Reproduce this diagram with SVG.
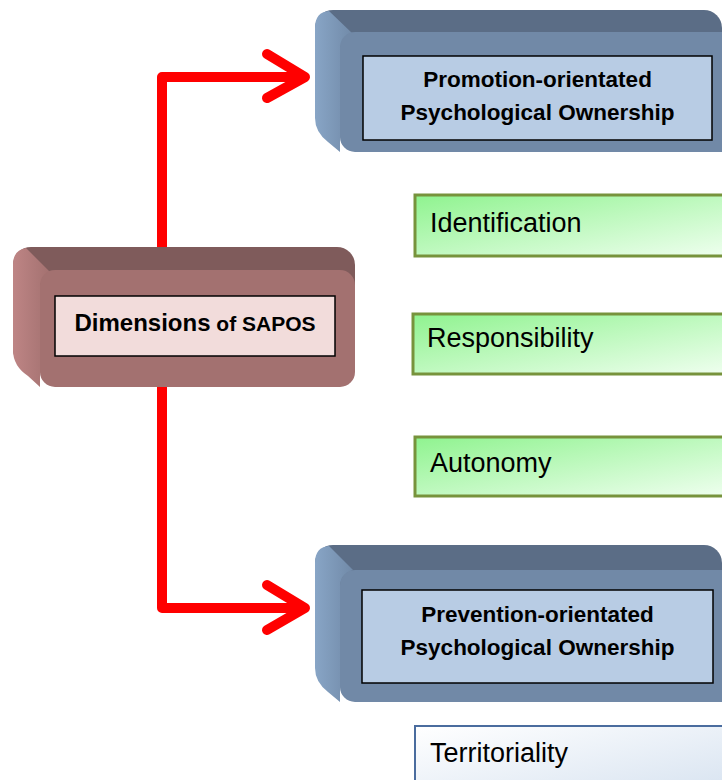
<svg xmlns="http://www.w3.org/2000/svg" width="722" height="780" viewBox="0 0 722 780">
<defs>
<linearGradient id="gGreen" x1="0" y1="0" x2="1" y2="1">
<stop offset="0" stop-color="#8ff38f"/>
<stop offset="1" stop-color="#f0fff0"/>
</linearGradient>
<linearGradient id="gTerr" x1="0" y1="0" x2="1" y2="1">
<stop offset="0" stop-color="#ffffff"/>
<stop offset="1" stop-color="#d6e2f0"/>
</linearGradient>
<linearGradient id="gBlueLeft" x1="0" y1="0" x2="1" y2="0">
<stop offset="0" stop-color="#88a5c6"/>
<stop offset="1" stop-color="#718aa8"/>
</linearGradient>
<linearGradient id="gPinkLeft" x1="0" y1="0" x2="1" y2="0">
<stop offset="0" stop-color="#be8585"/>
<stop offset="1" stop-color="#a37170"/>
</linearGradient>
</defs>
<style>
.btop{fill:#5b6d86}
.bfront{fill:#7189a7}
.binner{fill:#b8cce4;stroke:#000;stroke-width:1.5}
.ptop{fill:#7f5b5b}
.pfront{fill:#a37170}
.pinner{fill:#f2dcdb;stroke:#000;stroke-width:1.5}
.green{fill:url(#gGreen);stroke:#77933c;stroke-width:3}
.terr{fill:url(#gTerr);stroke:#4a6c9e;stroke-width:2}
.bold{font-family:"Liberation Sans",Arial,sans-serif;font-weight:bold;fill:#000;text-anchor:middle}
.lbl{font-family:"Liberation Sans",Arial,sans-serif;font-size:27px;fill:#000}
.conn{fill:none;stroke:#ff0000;stroke-width:10;stroke-linecap:round;stroke-linejoin:round}
</style>

<g id="connectors">
<polyline class="conn" points="162,247 162,77 300,77"/>
<polyline class="conn" points="267,54 305,77 267,98"/>
<polyline class="conn" points="162,387 162,608 300,608"/>
<polyline class="conn" points="267,585 305,608 267,630"/>
</g>

<g id="dimensions">
<rect class="ptop" x="13" y="247" width="342" height="120" rx="18"/>
<path fill="url(#gPinkLeft)" d="M13,265 Q13,250 26,248 L50,272 Q40,276 40,290 L40,387 L28,376 Q13,366 13,350 Z"/>
<rect class="pfront" x="40" y="270" width="315" height="117" rx="15"/>
<rect class="pinner" x="55" y="296" width="280" height="60"/>
<text class="bold" x="195" y="331"><tspan font-size="24">Dimensions</tspan><tspan font-size="21"> of SAPOS</tspan></text>
</g>

<g id="promotion">
<rect class="btop" x="315" y="10" width="407" height="120" rx="18"/>
<path fill="url(#gBlueLeft)" d="M315,28 Q315,12 329,11 L353,34 Q340,38 340,52 L340,152 L328,142 Q315,132 315,118 Z"/>
<rect class="bfront" x="340" y="32" width="400" height="120" rx="15"/>
<rect class="binner" x="363" y="56" width="349" height="84"/>
<text class="bold" font-size="22.5" x="537.5" y="87">Promotion-orientated</text>
<text class="bold" font-size="22.5" x="537.5" y="120">Psychological Ownership</text>
</g>

<g id="identification">
<rect class="green" x="415" y="195" width="320" height="61"/>
<text class="lbl" x="430" y="232">Identification</text>
</g>

<g id="responsibility">
<rect class="green" x="413" y="314" width="320" height="60"/>
<text class="lbl" x="427" y="347">Responsibility</text>
</g>

<g id="autonomy">
<rect class="green" x="415" y="437" width="320" height="59"/>
<text class="lbl" x="430" y="472">Autonomy</text>
</g>

<g id="prevention">
<rect class="btop" x="315" y="545" width="407" height="135" rx="18"/>
<path fill="url(#gBlueLeft)" d="M315,563 Q315,547 329,546 L353,570 Q340,574 340,588 L340,702 L328,692 Q315,682 315,668 Z"/>
<rect class="bfront" x="340" y="570" width="400" height="132" rx="15"/>
<rect class="binner" x="362" y="590" width="351" height="93"/>
<text class="bold" font-size="22.5" x="537.5" y="622">Prevention-orientated</text>
<text class="bold" font-size="22.5" x="537.5" y="655">Psychological Ownership</text>
</g>

<g id="territoriality">
<rect class="terr" x="415" y="726" width="320" height="70"/>
<text class="lbl" x="430" y="762">Territoriality</text>
</g>
</svg>
